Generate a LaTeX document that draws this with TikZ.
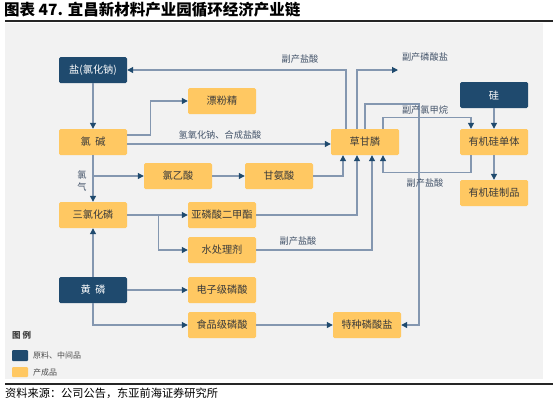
\documentclass[tikz,border=0pt]{standalone}
\usepackage{fontspec}
\setmainfont{Noto Sans CJK SC}
\usetikzlibrary{arrows.meta}
\definecolor{navy}{HTML}{1F4A6E}
\definecolor{ylw}{HTML}{FFC862}
\definecolor{bgc}{HTML}{F2F2F2}
\definecolor{linec}{HTML}{8497B0}
\definecolor{lblc}{HTML}{44546A}
\definecolor{boxtxt}{HTML}{3A3A3A}
\begin{document}
\begin{tikzpicture}[x=1pt,y=-1pt,
  box/.style={minimum width=68pt,minimum height=26pt,inner sep=0pt,rounded corners=1.5pt,font=\fontsize{10.2}{12}\selectfont},
  rawbox/.style={box,fill=navy,text=white},
  prodbox/.style={box,fill=ylw,text=boxtxt},
  conn/.style={draw=linec,line width=1.1pt,-{Triangle[color=navy,length=6pt,width=6pt]}},
  lbl/.style={text=lblc,font=\fontsize{9.2}{10}\selectfont,inner sep=0pt}]
\useasboundingbox (0,0) rectangle (559,400);
% frame
\node[anchor=west,inner sep=0pt,font=\fontsize{15.5}{17}\selectfont\bfseries,text=black] (title) at (4,10) {图表 47. 宜昌新材料产业园循环经济产业链};
\draw[line width=2.5pt,color=black!85] (5,21) -- (553,21);
\fill[bgc] (5,22.5) rectangle (543,379);
\draw[line width=1.6pt,color=black!85] (5,384) -- (553,384);
\node[anchor=west,inner sep=0pt,font=\fontsize{11.2}{13}\selectfont,text=black] (src) at (5,393) {资料来源：公司公告，东亚前海证券研究所};
% nodes
\node[rawbox] (salt) at (93,70) {盐(氯化钠)};
\node[prodbox] (chloralk) at (93,142) {氯\ \ 碱};
\node[prodbox] (bleach) at (222,101) {漂粉精};
\node[prodbox] (cla) at (178,176) {氯乙酸};
\node[prodbox] (gly) at (279,176) {甘氨酸};
\node[prodbox] (pcl3) at (93,215) {三氯化磷};
\node[prodbox] (dmp) at (222,215) {亚磷酸二甲酯};
\node[prodbox] (water) at (222,250) {水处理剂};
\node[rawbox] (yp) at (93,290) {黄\ \ 磷};
\node[prodbox] (ep) at (222,290) {电子级磷酸};
\node[prodbox] (fp) at (222,325) {食品级磷酸};
\node[prodbox] (sp) at (367,325) {特种磷酸盐};
\node[prodbox] (glyph) at (365,142) {草甘膦};
\node[rawbox] (si) at (494,95) {硅};
\node[prodbox] (mono) at (494,142) {有机硅单体};
\node[prodbox] (siprod) at (494,193) {有机硅制品};
% connectors
\draw[conn] (salt) -- (chloralk);
\draw[conn] ([yshift=7pt]chloralk.east) -- ++(23,0) |- (bleach.west);
\draw[conn] ([yshift=-2pt]chloralk.east) -- ([yshift=-2pt]glyph.west);
\draw[conn] (chloralk) -- (pcl3);
\draw[conn] (chloralk.south |- cla.west) -- (cla.west);
\draw[conn] (cla) -- (gly);
\draw[conn] (gly.east) -| ([xshift=-22pt]glyph.south);
\draw[conn] (pcl3.east) -- (dmp.west);
\draw[conn] (pcl3.east) -- ++(31,0) |- (water.west);
\draw[conn] (dmp.east) -| ([xshift=-8pt]glyph.south);
\draw[conn] (water.east) -| ([xshift=7pt]glyph.south);
\draw[conn] (yp) -- (pcl3);
\draw[conn] (yp) -- (ep);
\draw[conn] (yp.south) |- (fp.west);
\draw[conn] (fp) -- (sp);
\draw[conn] ([xshift=-19pt]glyph.north) |- (salt.east);
\coordinate (bpend) at (398,70);
\draw[conn] ([xshift=-8pt]glyph.north) |- (bpend);
\coordinate (r1) at (419,104);
\draw[conn] (glyph.north) |- (r1) |- (sp.east);
\draw[conn] ([xshift=18pt]glyph.north) -- ++(0,-11) -| ([xshift=-23pt]mono.north);
\draw[conn] (si) -- (mono);
\draw[conn] (mono) -- (siprod);
\draw[conn] ([xshift=-23pt]mono.south) -- ++(0,17) -| ([xshift=18pt]glyph.south);
% labels
\node[lbl] (l1) at (220,135) {氢氧化钠、合成盐酸};
\node[lbl] (l2) at (82,175) {氯};
\node[lbl] (l3) at (82,187) {气};
\node[lbl] (l4) at (300,59) {副产盐酸};
\node[lbl] (l5) at (425,57) {副产磷酸盐};
\node[lbl] (l6) at (425,110) {副产氯甲烷};
\node[lbl] (l7) at (425,183) {副产盐酸};
\node[lbl] (l8) at (298,241) {副产盐酸};
% legend
\node[anchor=west,inner sep=0pt,font=\fontsize{8.5}{9}\selectfont\bfseries,text=black!75] (lg) at (12,335) {图\ 例};
\fill[navy,rounded corners=1pt] (12,350) rectangle (28,361);
\node[anchor=west,inner sep=0pt,font=\fontsize{8}{9}\selectfont,text=black!70] (lg1) at (33,355.5) {原料、中间品};
\fill[ylw,rounded corners=1pt] (12,367) rectangle (28,377);
\node[anchor=west,inner sep=0pt,font=\fontsize{8}{9}\selectfont,text=black!70] (lg2) at (33,372) {产成品};
\end{tikzpicture}
\end{document}
